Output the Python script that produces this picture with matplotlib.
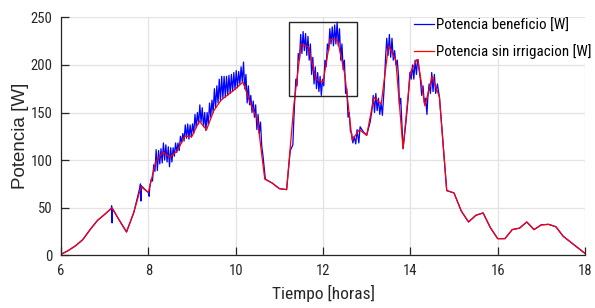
import numpy as np
import matplotlib
matplotlib.use('Agg')
import matplotlib.pyplot as plt
from matplotlib import font_manager
from matplotlib.patches import Rectangle

# red curve: sampled every 10 min from 6:00 to 18:00
red_w = [1, 5, 10, 16.5, 27, 36.5, 43, 50, 37, 24.5, 45, 72,
         66, 98, 108.5, 103, 110, 125, 125, 141, 132, 152, 163, 169,
         175, 182, 160, 142, 80, 76, 70, 69, 158, 222, 219, 185,
         182, 227, 226, 190, 121, 132, 126, 166, 159, 220, 205, 112,
         192, 207, 157, 188, 166, 68, 65.5, 46.5, 35, 42, 44.5, 29,
         17.5, 17.5, 27, 28.5, 35, 27, 32, 32.5, 30, 20, 14, 8, 2]
red_t = np.linspace(6, 18, len(red_w))

# blue curve (with irrigation pulses)
blue_t_early = [6.0, 6.167, 6.333, 6.5, 6.667, 6.833, 7.0, 7.15, 7.16, 7.17, 7.18,
                7.333, 7.5, 7.667, 7.80, 7.82, 7.83, 7.84, 7.95, 8.0, 8.02, 8.03]
blue_w_early = [1, 5, 10, 16.5, 27, 36.5, 43, 49, 52, 34, 49,
                37, 24.5, 45, 70, 75, 57, 73, 68, 66, 62, 70]

# pulses between 8:02 and 10:41
blue_w_a = [74, 80, 78, 95, 88, 111, 89, 110, 96, 112, 97, 118, 100, 116, 98, 114,
            93, 113, 98, 113, 104, 118, 108, 118, 110, 125, 118, 128, 120, 137, 123, 138,
            122, 137, 124, 138, 128, 148, 134, 150, 138, 158, 140, 155, 135, 150, 131, 150,
            137, 160, 145, 163, 150, 175, 155, 178, 160, 185, 162, 188, 165, 188, 166, 188,
            168, 189, 170, 190, 172, 192, 174, 194, 176, 193, 180, 198, 182, 203, 175, 190,
            160, 178, 158, 168, 150, 162, 145, 158, 132, 148, 128, 140, 115, 105, 92, 80]
blue_t_a = np.linspace(8.04, 10.68, len(blue_w_a))

blue_t_mid = [10.833, 11.0, 11.167, 11.25, 11.31, 11.33]
blue_w_mid = [76, 70, 69, 110, 116, 140]

# pulses between 11:21 and 12:43
blue_w_b = [160, 185, 178, 212, 205, 232, 212, 235, 215, 233, 210, 230, 205, 222, 190, 208,
            180, 198, 175, 192, 172, 188, 168, 185, 178, 205, 198, 222, 215, 238, 222, 240,
            220, 242, 222, 245, 220, 238, 205, 222, 195, 205, 170, 175, 145, 150, 130, 128,
            118, 125]
blue_t_b = np.linspace(11.35, 12.712, len(blue_w_b))

blue_t_c = [12.75, 12.78, 12.82, 12.85, 12.92, 13.0, 13.08, 13.12, 13.15, 13.18, 13.21,
            13.24, 13.27, 13.30, 13.33, 13.36, 13.40, 13.43, 13.46, 13.49, 13.52, 13.55,
            13.58, 13.61, 13.64, 13.67, 13.70, 13.73, 13.75, 13.78, 13.833, 13.9, 13.95,
            13.99, 14.02, 14.05, 14.08, 14.11, 14.14, 14.17, 14.20, 14.23, 14.26, 14.29,
            14.32, 14.35, 14.38, 14.40, 14.43, 14.46, 14.49, 14.52, 14.55, 14.58, 14.62,
            14.667]
blue_w_c = [117, 132, 118, 135, 130, 126, 140, 152, 168, 150, 170,
            152, 165, 148, 160, 147, 175, 205, 228, 210, 232, 208,
            228, 205, 215, 200, 205, 188, 158, 165, 112, 140, 165,
            192, 185, 200, 185, 205, 190, 208, 195, 185, 168, 178,
            160, 165, 148, 165, 180, 170, 192, 172, 190, 170, 180,
            166]

blue_t = np.concatenate([blue_t_early, blue_t_a, blue_t_mid, blue_t_b, blue_t_c, red_t[53:]])
blue_w = np.concatenate([blue_w_early, blue_w_a, blue_w_mid, blue_w_b, blue_w_c, red_w[53:]])

zoom_box = (11.21, 12.77, 167.7, 245.4)  # t0, t1, w0, w1

# narrow font if there is one, else plain Liberation Sans a bit smaller
names = {f.name for f in font_manager.fontManager.ttflist}
narrow = next((n for n in ['Liberation Sans Narrow', 'Roboto Condensed', 'Open Sans Condensed']
               if n in names), None)
if narrow:
    plt.rcParams['font.family'] = [narrow, 'DejaVu Sans']
    tick_fs, leg_fs, xl_fs = 10.5, 10.8, 12.5
else:
    plt.rcParams['font.family'] = ['Liberation Sans', 'DejaVu Sans']
    tick_fs, leg_fs, xl_fs = 9.5, 9.6, 10.8

fig = plt.figure(figsize=(5.95, 3.08), dpi=100)
ax = fig.add_axes([61 / 595, 1 - 255.3 / 308, 524 / 595, 238 / 308])

ax.plot(blue_t, blue_w, color='#0000ff', lw=0.9, label='Potencia beneficio [W]')
ax.plot(red_t, red_w, color='#ff0000', lw=0.9, label='Potencia sin irrigacion [W]')

ax.add_patch(Rectangle((zoom_box[0], zoom_box[2]), zoom_box[1] - zoom_box[0],
                       zoom_box[3] - zoom_box[2], fill=False, ec='#262626', lw=1.0, zorder=5))

ax.set_xlim(6, 18)
ax.set_ylim(0, 250)
ax.set_xticks([6, 8, 10, 12, 14, 16, 18])
ax.set_yticks([0, 50, 100, 150, 200, 250])
ax.grid(True, color='#e3e3e3', lw=0.9)
ax.set_axisbelow(True)
for s in ['top', 'right']:
    ax.spines[s].set_visible(False)
for s in ['left', 'bottom']:
    ax.spines[s].set_color('#262626')
    ax.spines[s].set_linewidth(0.9)
ax.tick_params(direction='in', length=6, width=0.9, color='#262626',
               labelsize=tick_fs, labelcolor='#262626', pad=6)

ax.set_xlabel('Tiempo [horas]', fontsize=xl_fs, color='#262626', labelpad=5)
ax.set_ylabel('Potencia [W]', fontsize=13.5, color='#262626', labelpad=1,
              family=['Liberation Sans', 'DejaVu Sans'])

leg = ax.legend(loc='upper right', bbox_to_anchor=(1.012, 0.995), fontsize=leg_fs,
                frameon=True, facecolor='white', edgecolor='none', framealpha=1,
                handlelength=1.35, handletextpad=0.1, borderpad=0.0, labelspacing=0.75,
                borderaxespad=0)
leg.get_frame().set_boxstyle('square', pad=0)

fig.savefig('out.png', dpi=100)
